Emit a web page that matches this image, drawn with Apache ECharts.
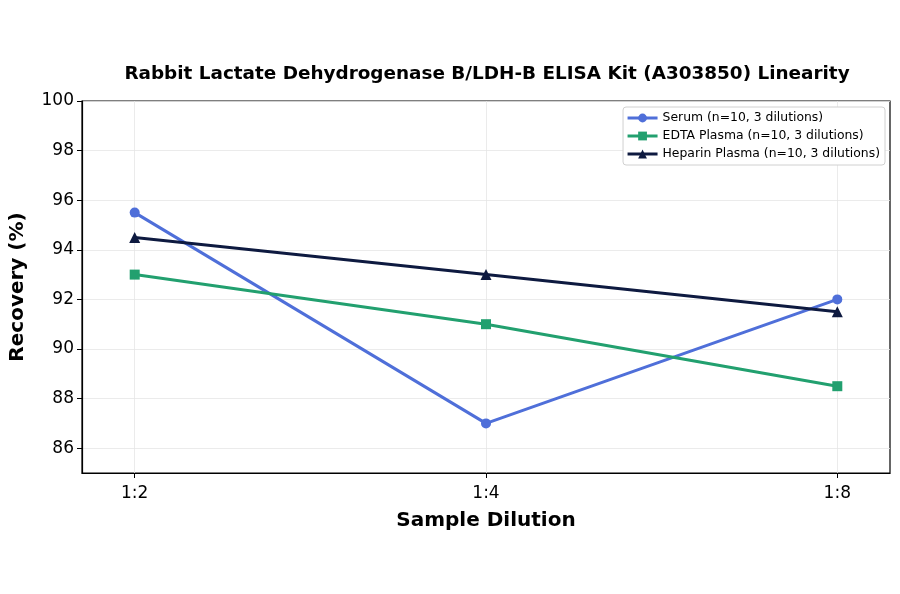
<!DOCTYPE html>
<html>
<head>
<meta charset="utf-8">
<script src="https://cdn.jsdelivr.net/npm/echarts@6/dist/echarts.min.js"></script>
<style>
  html, body { margin: 0; padding: 0; background: #fff; }
  #chart { width: 900px; height: 594px; }
</style>
</head>
<body>
<div id="chart"></div>
<script>
// data
var dilutions = ["1:2", "1:4", "1:8"];
var serum = [95.5, 87, 92];
var edta = [93, 91, 88.5];
var heparin = [94.5, 93, 91.5];
var yTicks = [86, 88, 90, 92, 94, 96, 98, 100];

var font = "DejaVu Sans";

function pts(vals) {
	var out = [];
	for (var i = 0; i < vals.length; i++) {
		out.push([i, vals[i]]);
	}
	return out;
}

function line(name, vals, color, symbol, size) {
	return {
		name: name,
		type: "line",
		data: pts(vals),
		symbol: symbol,
		symbolSize: size,
		lineStyle: { width: 3, color: color },
		itemStyle: { color: color },
		emphasis: { disabled: true }
	};
}

var myChart = echarts.init(document.getElementById("chart"), null, { renderer: "canvas" });

var option = {
	animation: false,
	title: {
		text: "Rabbit Lactate Dehydrogenase B/LDH-B ELISA Kit (A303850) Linearity",
		left: 482,
		top: 60,
		textAlign: "center",
		textStyle: { fontFamily: font, fontSize: 18.4, fontWeight: "bold", color: "#000" }
	},
	grid: {
		left: 82, right: 10, top: 101, bottom: 121,
		show: true, borderColor: "#000", borderWidth: 1.2,
		containLabel: false,
		outerBoundsMode: "none"
	},
	legend: {
		orient: "vertical",
		right: 15, top: 107,
		padding: [5, 5, 5, 3],
		itemGap: 6,
		itemWidth: 30,
		itemHeight: 11,
		borderColor: "#d0d0d0",
		borderWidth: 1,
		borderRadius: 3,
		backgroundColor: "#fff",
		lineStyle: { width: 3 },
		textStyle: { fontFamily: font, fontSize: 12.4, color: "#000" },
		data: ["Serum (n=10, 3 dilutions)", "EDTA Plasma (n=10, 3 dilutions)", "Heparin Plasma (n=10, 3 dilutions)"]
	},
	xAxis: {
		type: "value",
		min: -0.15,
		max: 2.15,
		name: "Sample Dilution",
		nameLocation: "middle",
		nameGap: 38,
		nameTextStyle: { fontFamily: font, fontSize: 20, fontWeight: "bold", color: "#000" },
		axisLine: { onZero: false, lineStyle: { color: "#000", width: 1.2 } },
		axisTick: { show: true, length: 5, customValues: [0, 1, 2], lineStyle: { color: "#000" } },
		axisLabel: {
			customValues: [0, 1, 2],
			formatter: function (v) { return dilutions[Math.round(v)]; },
			fontFamily: font, fontSize: 17, color: "#000", margin: 12
		},
		splitLine: { show: true, lineStyle: { color: "#e6e6e6", width: 0.8 } }
	},
	yAxis: {
		type: "value",
		min: 85,
		max: 100,
		name: "Recovery (%)",
		nameLocation: "middle",
		nameGap: 54,
		nameTextStyle: { fontFamily: font, fontSize: 20, fontWeight: "bold", color: "#000" },
		axisLine: { show: true, onZero: false, lineStyle: { color: "#000", width: 1.2 } },
		axisTick: { show: true, length: 5, customValues: yTicks, lineStyle: { color: "#000" } },
		axisLabel: {
			customValues: yTicks,
			fontFamily: font, fontSize: 17, color: "#000", margin: 8
		},
		splitLine: { show: true, lineStyle: { color: "#e6e6e6", width: 0.8 } }
	},
	series: [
		line("Serum (n=10, 3 dilutions)", serum, "#4f6fd9", "circle", 10),
		line("EDTA Plasma (n=10, 3 dilutions)", edta, "#22a06f", "rect", 10),
		line("Heparin Plasma (n=10, 3 dilutions)", heparin, "#0e1a40", "triangle", 11)
	]
};

myChart.setOption(option);
</script>
</body>
</html>
